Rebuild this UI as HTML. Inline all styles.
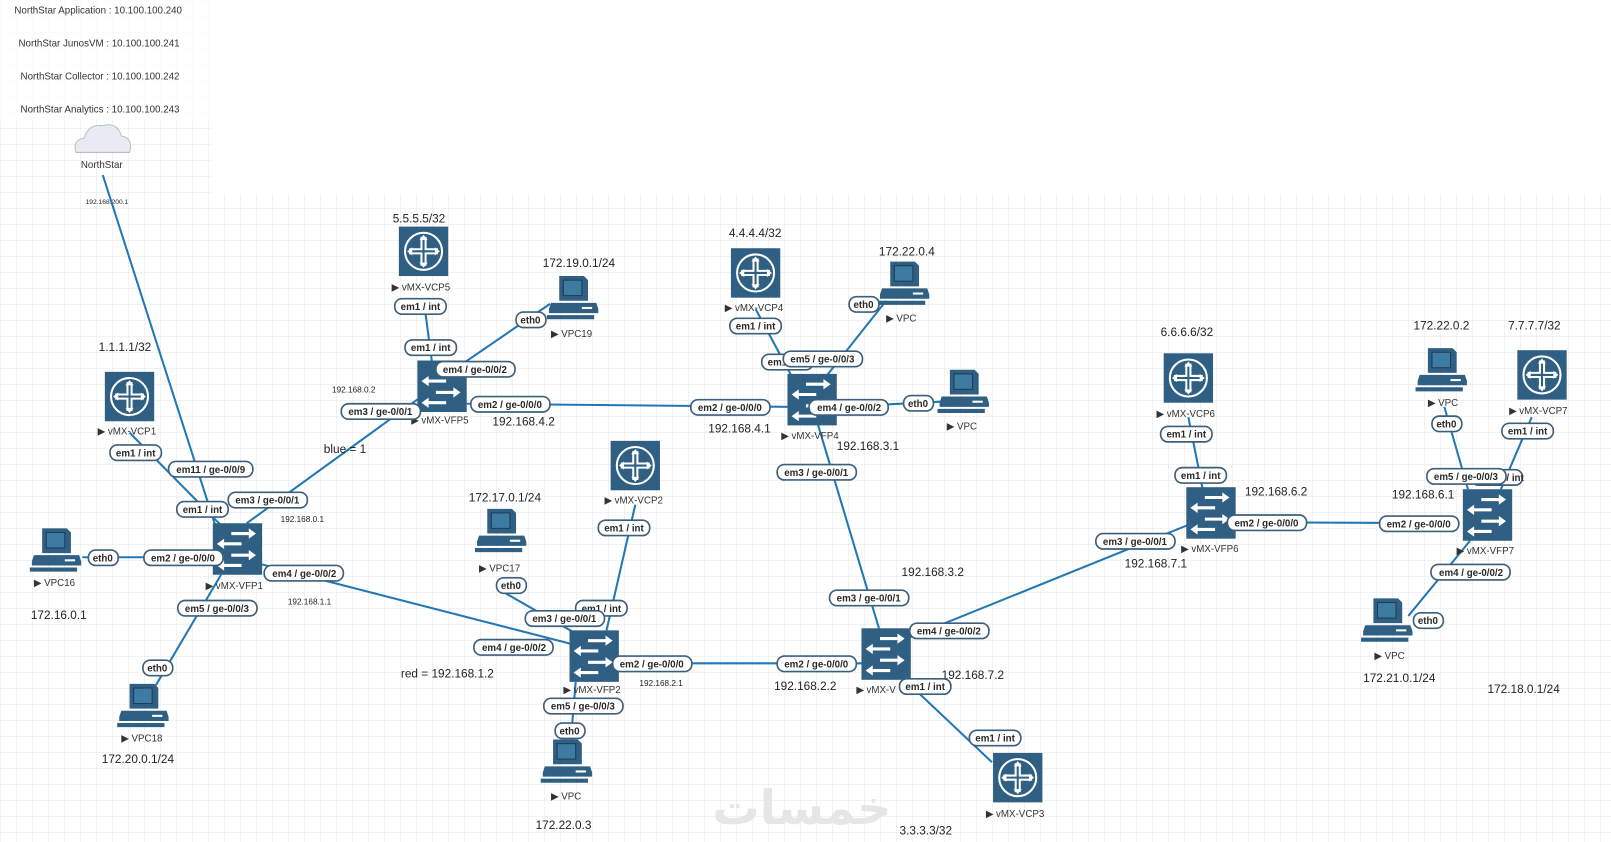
<!DOCTYPE html>
<html><head><meta charset="utf-8"><style>
html,body{margin:0;padding:0;background:#fff;width:1611px;height:842px;overflow:hidden}
svg{display:block}
text{font-family:"Liberation Sans",Arial,sans-serif;fill:#222}
.p rect{fill:#fff;stroke:#3d5f7c;stroke-width:1.6}
.p text{font-size:9.5px;font-weight:bold;fill:#2a2a2a;text-anchor:middle}
.ip{font-size:11.5px}
.sm{font-size:8px}
.nm{font-size:9.5px;fill:#333}
.ln{stroke:#2277b5;stroke-width:2;fill:none}
</style></head><body>
<svg width="1611" height="842" viewBox="0 0 1611 842" xmlns="http://www.w3.org/2000/svg">
<defs>
<pattern id="g" width="16" height="16" patternUnits="userSpaceOnUse">
<path d="M16 0H0V16" fill="none" stroke="#e4e4e4" stroke-width="1"/>
</pattern>
<g id="rt">
<rect x="-24" y="-24" width="48" height="48" fill="#2f5f82"/>
<circle r="18" fill="none" stroke="#fff" stroke-width="2"/>
<path d="M-2 -14V-2H-14M2 -14V-2H14M-2 14V2H-14M2 14V2H14" fill="none" stroke="#fff" stroke-width="2"/>
<path d="M0 -16l-4 5h8zM0 16l-4 -5h8zM-16 0l5 -4v8zM16 0l-5 -4v8z" fill="#fff"/>
</g>
<g id="sw">
<rect x="-24" y="-25" width="48" height="50" fill="#2f5f82"/>
<path d="M-6 -15H12M-14 -5H4M-6 6H12M-14 16H4" stroke="#fff" stroke-width="3"/>
<path d="M18 -15l-7 -5v10zM-20 -5l7 -5v10zM18 6l-7 -5v10zM-20 16l7 -5v10z" fill="#fff"/>
</g>
<g id="pc">
<path d="M-14 -22H10L14 -18V2H-14Z" fill="#2f5f82"/>
<rect x="-10" y="-18" width="18" height="15" fill="#3e7ba3" stroke="#1d3d55"/>
<path d="M-22 4H22L24 10V14H-24V10Z" fill="#2f5f82"/>
<path d="M-26 16H20V20H-26Z" fill="#2f5f82"/>
<rect x="8" y="8" width="10" height="2" fill="#fff"/>
</g>
</defs>
<rect x="0" y="0" width="212" height="195" fill="url(#g)"/>
<rect x="0" y="195" width="1611" height="647" fill="url(#g)"/>
<rect x="0" y="0" width="212" height="120" fill="#fff" opacity="0.8"/>
<g transform="scale(1.028,1.03)">
<text x="14" y="13" class="nm">NorthStar Application : 10.100.100.240</text>
<text x="18" y="45" class="nm">NorthStar JunosVM : 10.100.100.241</text>
<text x="20" y="77" class="nm">NorthStar Collector : 10.100.100.242</text>
<text x="20" y="109" class="nm">NorthStar Analytics : 10.100.100.243</text>
<path d="M74 148 Q70 136 82 134 Q86 120 100 122 Q114 118 118 132 Q130 134 126 148 Z" fill="#e8ecf2" stroke="#b8bec8"/>
<text x="99" y="163" class="nm" text-anchor="middle">NorthStar</text>
<text x="104" y="198" class="sm" text-anchor="middle" style="font-size:6.5px">192.168.200.1</text>
<text x="780" y="800" text-anchor="middle" style="font-family:'DejaVu Sans',sans-serif;font-size:46px;fill:#e6e6e6;font-weight:bold">خمسات</text>
<path class="ln" d="M100 170L210 512"/>
<path class="ln" d="M126 420L215 510"/>
<path class="ln" d="M80 541H207"/>
<path class="ln" d="M240 508L410 385"/>
<path class="ln" d="M255 548L555 625"/>
<path class="ln" d="M215 558L150 668"/>
<path class="ln" d="M412 290L420 350"/>
<path class="ln" d="M440 360L535 295"/>
<path class="ln" d="M454 392L768 395"/>
<path class="ln" d="M735 300L770 365"/>
<path class="ln" d="M800 370L862 292"/>
<path class="ln" d="M815 395L915 390"/>
<path class="ln" d="M795 410L855 610"/>
<path class="ln" d="M618 490L590 612"/>
<path class="ln" d="M490 575L560 615"/>
<path class="ln" d="M560 662L555 722"/>
<path class="ln" d="M600 644L840 644"/>
<path class="ln" d="M882 620L1155 510"/>
<path class="ln" d="M880 660L965 740"/>
<path class="ln" d="M1156 405L1170 475"/>
<path class="ln" d="M1200 507L1420 508"/>
<path class="ln" d="M1405 395L1428 475"/>
<path class="ln" d="M1490 405L1460 475"/>
<path class="ln" d="M1430 525L1370 598"/>
<use href="#rt" x="126" y="385"/><use href="#sw" x="231" y="533"/>
<use href="#pc" x="55" y="535"/><use href="#pc" x="140" y="686"/>
<use href="#rt" x="412" y="244"/><use href="#sw" x="430" y="375"/>
<use href="#pc" x="558" y="290"/>
<use href="#rt" x="735" y="265"/><use href="#sw" x="790" y="388"/>
<use href="#pc" x="880" y="276"/><use href="#pc" x="938" y="381"/>
<use href="#rt" x="618" y="452"/><use href="#pc" x="488" y="516"/>
<use href="#sw" x="578" y="637"/><use href="#pc" x="552" y="740"/>
<use href="#sw" x="862" y="635"/><use href="#rt" x="990" y="755"/>
<use href="#rt" x="1156" y="367"/><use href="#sw" x="1178" y="498"/>
<use href="#pc" x="1403" y="360"/><use href="#rt" x="1500" y="364"/>
<use href="#sw" x="1447" y="500"/><use href="#pc" x="1350" y="603"/>
<g class="nm">
<text x="95" y="422" class="nm">▶ vMX-VCP1</text>
<text x="200" y="572" class="nm">▶ vMX-VFP1</text>
<text x="33" y="569" class="nm">▶ VPC16</text>
<text x="118" y="720" class="nm">▶ VPC18</text>
<text x="381" y="282" class="nm">▶ vMX-VCP5</text>
<text x="400" y="411" class="nm">▶ vMX-VFP5</text>
<text x="536" y="327" class="nm">▶ VPC19</text>
<text x="705" y="302" class="nm">▶ vMX-VCP4</text>
<text x="760" y="426" class="nm">▶ vMX-VFP4</text>
<text x="862" y="312" class="nm">▶ VPC</text>
<text x="921" y="417" class="nm">▶ VPC</text>
<text x="588" y="489" class="nm">▶ vMX-VCP2</text>
<text x="466" y="555" class="nm">▶ VPC17</text>
<text x="548" y="673" class="nm">▶ vMX-VFP2</text>
<text x="536" y="776" class="nm">▶ VPC</text>
<text x="833" y="673" class="nm">▶ vMX-V</text>
<text x="959" y="793" class="nm">▶ vMX-VCP3</text>
<text x="1125" y="405" class="nm">▶ vMX-VCP6</text>
<text x="1149" y="536" class="nm">▶ vMX-VFP6</text>
<text x="1389" y="394" class="nm">▶ VPC</text>
<text x="1468" y="402" class="nm">▶ vMX-VCP7</text>
<text x="1417" y="538" class="nm">▶ vMX-VFP7</text>
<text x="1337" y="640" class="nm">▶ VPC</text>
</g>
<g class="ip">
<text x="96" y="341" class="ip">1.1.1.1/32</text>
<text x="30" y="601" class="ip">172.16.0.1</text>
<text x="99" y="741" class="ip">172.20.0.1/24</text>
<text x="315" y="440" class="ip">blue = 1</text>
<text x="390" y="658" class="ip">red = 192.168.1.2</text>
<text x="382" y="216" class="ip">5.5.5.5/32</text>
<text x="528" y="259" class="ip">172.19.0.1/24</text>
<text x="479" y="413" class="ip">192.168.4.2</text>
<text x="709" y="230" class="ip">4.4.4.4/32</text>
<text x="855" y="248" class="ip">172.22.0.4</text>
<text x="689" y="420" class="ip">192.168.4.1</text>
<text x="814" y="437" class="ip">192.168.3.1</text>
<text x="456" y="487" class="ip">172.17.0.1/24</text>
<text x="521" y="805" class="ip">172.22.0.3</text>
<text x="753" y="670" class="ip">192.168.2.2</text>
<text x="877" y="559" class="ip">192.168.3.2</text>
<text x="916" y="659" class="ip">192.168.7.2</text>
<text x="875" y="810" class="ip">3.3.3.3/32</text>
<text x="1129" y="326" class="ip">6.6.6.6/32</text>
<text x="1211" y="481" class="ip">192.168.6.2</text>
<text x="1094" y="551" class="ip">192.168.7.1</text>
<text x="1375" y="320" class="ip">172.22.0.2</text>
<text x="1467" y="320" class="ip">7.7.7.7/32</text>
<text x="1354" y="484" class="ip">192.168.6.1</text>
<text x="1326" y="662" class="ip">172.21.0.1/24</text>
<text x="1447" y="673" class="ip">172.18.0.1/24</text>
<text x="273" y="507" class="sm">192.168.0.1</text>
<text x="280" y="587" class="sm">192.168.1.1</text>
<text x="323" y="381" class="sm">192.168.0.2</text>
<text x="622" y="666" class="sm">192.168.2.1</text>
</g>
<g class="p">
<rect x="107" y="432" width="50" height="15" rx="7"/><text x="132" y="443">em1 / int</text>
<rect x="164" y="448" width="82" height="15" rx="7"/><text x="205" y="459">em11 / ge-0/0/9</text>
<rect x="172" y="487" width="50" height="15" rx="7"/><text x="197" y="498">em1 / int</text>
<rect x="222" y="478" width="77" height="15" rx="7"/><text x="260" y="489">em3 / ge-0/0/1</text>
<rect x="86" y="534" width="29" height="15" rx="7"/><text x="100" y="545">eth0</text>
<rect x="140" y="534" width="77" height="15" rx="7"/><text x="178" y="545">em2 / ge-0/0/0</text>
<rect x="257" y="549" width="77" height="15" rx="7"/><text x="296" y="560">em4 / ge-0/0/2</text>
<rect x="173" y="583" width="77" height="15" rx="7"/><text x="211" y="594">em5 / ge-0/0/3</text>
<rect x="139" y="641" width="29" height="15" rx="7"/><text x="153" y="652">eth0</text>
<rect x="384" y="290" width="50" height="15" rx="7"/><text x="409" y="301">em1 / int</text>
<rect x="394" y="330" width="50" height="15" rx="7"/><text x="419" y="341">em1 / int</text>
<rect x="424" y="351" width="77" height="15" rx="7"/><text x="462" y="362">em4 / ge-0/0/2</text>
<rect x="332" y="392" width="77" height="15" rx="7"/><text x="370" y="403">em3 / ge-0/0/1</text>
<rect x="458" y="385" width="77" height="15" rx="7"/><text x="496" y="396">em2 / ge-0/0/0</text>
<rect x="502" y="303" width="29" height="15" rx="7"/><text x="516" y="314">eth0</text>
<rect x="710" y="309" width="50" height="15" rx="7"/><text x="735" y="320">em1 / int</text>
<rect x="826" y="288" width="29" height="15" rx="7"/><text x="840" y="299">eth0</text>
<rect x="741" y="344" width="50" height="15" rx="7"/><text x="766" y="355">em1 / int</text>
<rect x="762" y="341" width="77" height="15" rx="7"/><text x="800" y="352">em5 / ge-0/0/3</text>
<rect x="672" y="388" width="77" height="15" rx="7"/><text x="710" y="399">em2 / ge-0/0/0</text>
<rect x="787" y="388" width="77" height="15" rx="7"/><text x="826" y="399">em4 / ge-0/0/2</text>
<rect x="879" y="384" width="29" height="15" rx="7"/><text x="893" y="395">eth0</text>
<rect x="756" y="451" width="77" height="15" rx="7"/><text x="794" y="462">em3 / ge-0/0/1</text>
<rect x="582" y="505" width="50" height="15" rx="7"/><text x="607" y="516">em1 / int</text>
<rect x="483" y="561" width="29" height="15" rx="7"/><text x="497" y="572">eth0</text>
<rect x="560" y="583" width="50" height="15" rx="7"/><text x="585" y="594">em1 / int</text>
<rect x="511" y="593" width="77" height="15" rx="7"/><text x="549" y="604">em3 / ge-0/0/1</text>
<rect x="461" y="621" width="77" height="15" rx="7"/><text x="500" y="632">em4 / ge-0/0/2</text>
<rect x="596" y="637" width="77" height="15" rx="7"/><text x="634" y="648">em2 / ge-0/0/0</text>
<rect x="529" y="678" width="77" height="15" rx="7"/><text x="567" y="689">em5 / ge-0/0/3</text>
<rect x="540" y="702" width="29" height="15" rx="7"/><text x="554" y="713">eth0</text>
<rect x="807" y="573" width="77" height="15" rx="7"/><text x="845" y="584">em3 / ge-0/0/1</text>
<rect x="885" y="605" width="77" height="15" rx="7"/><text x="923" y="616">em4 / ge-0/0/2</text>
<rect x="756" y="637" width="77" height="15" rx="7"/><text x="794" y="648">em2 / ge-0/0/0</text>
<rect x="875" y="659" width="50" height="15" rx="7"/><text x="900" y="670">em1 / int</text>
<rect x="943" y="709" width="50" height="15" rx="7"/><text x="968" y="720">em1 / int</text>
<rect x="1129" y="414" width="50" height="15" rx="7"/><text x="1154" y="425">em1 / int</text>
<rect x="1143" y="454" width="50" height="15" rx="7"/><text x="1168" y="465">em1 / int</text>
<rect x="1066" y="518" width="77" height="15" rx="7"/><text x="1104" y="529">em3 / ge-0/0/1</text>
<rect x="1194" y="500" width="77" height="15" rx="7"/><text x="1232" y="511">em2 / ge-0/0/0</text>
<rect x="1393" y="404" width="29" height="15" rx="7"/><text x="1407" y="415">eth0</text>
<rect x="1461" y="411" width="50" height="15" rx="7"/><text x="1486" y="422">em1 / int</text>
<rect x="1431" y="456" width="50" height="15" rx="7"/><text x="1463" y="467">em1 / int</text>
<rect x="1388" y="455" width="77" height="15" rx="7"/><text x="1426" y="466">em5 / ge-0/0/3</text>
<rect x="1342" y="501" width="77" height="15" rx="7"/><text x="1380" y="512">em2 / ge-0/0/0</text>
<rect x="1392" y="548" width="77" height="15" rx="7"/><text x="1431" y="559">em4 / ge-0/0/2</text>
<rect x="1375" y="595" width="29" height="15" rx="7"/><text x="1389" y="606">eth0</text>
</g>
</g>
</svg>
</body></html>
